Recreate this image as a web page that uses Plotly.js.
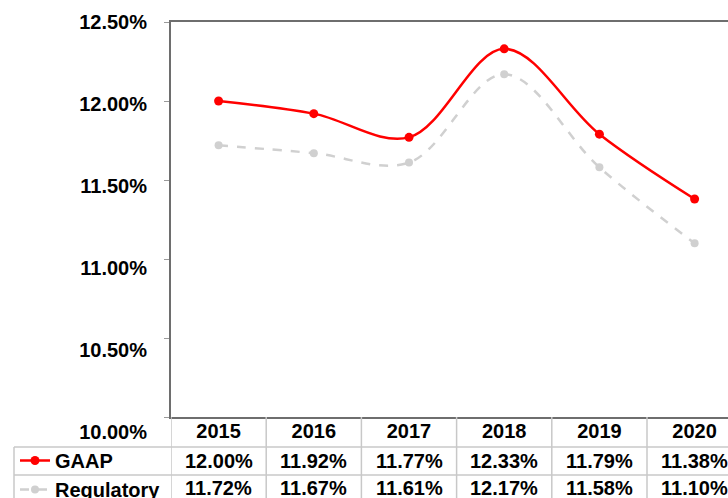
<!DOCTYPE html>
<html>
<head>
<meta charset="utf-8">
<script src="https://cdn.plot.ly/plotly-3.0.1.min.js"></script>
<style>
  html, body { margin: 0; padding: 0; background: #fff; }
  #myPlot { width: 728px; height: 498px; }
</style>
</head>
<body>
<div id="myPlot"></div>
<script>
var years = ["2015", "2016", "2017", "2018", "2019", "2020"];
var gaap = [12.00, 11.92, 11.77, 12.33, 11.79, 11.38];
var regulatory = [11.72, 11.67, 11.61, 12.17, 11.58, 11.10];
var yTicks = [10, 10.5, 11, 11.5, 12, 12.5];

var W = 728, H = 498;
var L = 171, T = 22, B = 432;       // paper area in px
var plotBottom = 417;               // bottom of the data axis
var paperH = B - T, paperW = W - L;
function py(p) { return (B - p) / paperH; }   // pixel y -> paper y
function px(p) { return (p - L) / paperW; }   // pixel x -> paper x

var bold = { family: "Liberation Sans, Arial, sans-serif", size: 20, weight: "bold", color: "#000" };
var gridColor = "#c8c8c8";
var frameColor = "#6e6e6e";

// Define Data
var data = [
    {
        x: years, y: gaap, name: "GAAP", mode: "lines+markers",
        line: { color: "#ff0000", width: 2.5, shape: "spline", smoothing: 1 },
        marker: { color: "#ff0000", size: 9 }
    },
    {
        x: years, y: regulatory, name: "Regulatory", mode: "lines+markers",
        line: { color: "#d0d0d0", width: 2.5, dash: "dash", shape: "spline", smoothing: 1 },
        marker: { color: "#d0d0d0", size: 8 }
    },
    // carries the tick labels of the value axis
    { x: [years[0]], y: [yTicks[0]], yaxis: "y2", showlegend: false, hoverinfo: "skip",
      mode: "markers", marker: { opacity: 0, size: 1 } }
];

// table lines under the plot
var shapes = [];
var rowLines = [447, 475];
for (var i = 0; i <= years.length; i++) {
    shapes.push({
        type: "line", xref: "x", yref: "paper",
        x0: i - 0.5, x1: i - 0.5, y0: py(plotBottom), y1: py(503),
        line: { color: gridColor, width: 1.5 }
    });
}
rowLines.forEach(function (r) {
    shapes.push({
        type: "line", xref: "paper", yref: "paper",
        x0: px(14), x1: 1, y0: py(r), y1: py(r),
        line: { color: gridColor, width: 1.5 }
    });
});
shapes.push({
    type: "line", xref: "paper", yref: "paper",
    x0: px(14), x1: px(14), y0: py(447), y1: py(503),
    line: { color: gridColor, width: 1.5 }
});

// table values (category index on the x axis)
var annotations = [];
function pct(v) { return v.toFixed(2) + "%"; }
years.forEach(function (yr, i) {
    annotations.push({ x: i, xref: "x", y: py(461), yref: "paper", text: "<b>" + pct(gaap[i]) + "</b>",
        showarrow: false, font: { family: bold.family, size: 20, color: "#000" },
        xanchor: "center", yanchor: "middle" });
    annotations.push({ x: i, xref: "x", y: py(488.5), yref: "paper", text: "<b>" + pct(regulatory[i]) + "</b>",
        showarrow: false, font: { family: bold.family, size: 20, color: "#000" },
        xanchor: "center", yanchor: "middle" });
});

// Define Layout
var layout = {
    width: W, height: H,
    margin: { l: L, r: 0, t: T, b: H - B, pad: 0, autoexpand: false },
    paper_bgcolor: "#fff", plot_bgcolor: "rgba(0,0,0,0)",
    showlegend: true,
    legend: {
        x: px(15), xanchor: "left", y: py(441), yanchor: "top",
        bgcolor: "rgba(0,0,0,0)", font: bold, itemwidth: 30, tracegroupgap: 0
    },
    xaxis: {
        type: "category", range: [-0.5, -0.5 + paperW / 95.2],
        showline: true, mirror: true, linecolor: frameColor, linewidth: 2,
        showgrid: false, zeroline: false, ticks: "", tickfont: bold,
        ticklabelstandoff: -5, fixedrange: true
    },
    yaxis: {
        domain: [py(plotBottom), 1], range: [10, 12.5], tickvals: yTicks,
        showticklabels: false, ticks: "outside", ticklen: 5, tickcolor: "#9a9a9a",
        showline: true, linecolor: frameColor, linewidth: 2,
        showgrid: false, zeroline: false, fixedrange: true
    },
    yaxis2: {
        domain: [0, 1], range: [10, 12.5], anchor: "free", position: 0, side: "left",
        tickvals: yTicks, ticktext: yTicks.map(pct),
        ticks: "outside", ticklen: 20, tickcolor: "rgba(0,0,0,0)", tickfont: bold,
        showline: false, showgrid: false, zeroline: false, fixedrange: true
    },
    shapes: shapes,
    annotations: annotations
};

Plotly.newPlot("myPlot", data, layout, { displayModeBar: false, staticPlot: true });
</script>
</body>
</html>
